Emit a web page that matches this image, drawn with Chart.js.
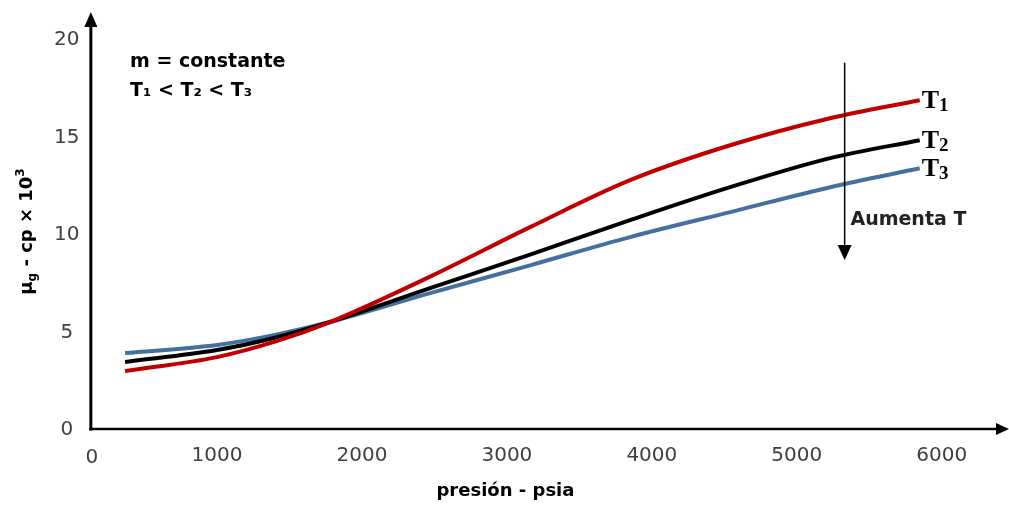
<!DOCTYPE html>
<html>
<head>
<meta charset="utf-8">
<script src="https://cdn.jsdelivr.net/npm/chart.js@4/dist/chart.umd.min.js"></script>
<style>
  html, body { margin: 0; padding: 0; background: #ffffff; }
  #wrap { width: 1009px; height: 505px; }
</style>
</head>
<body>
<div id="wrap"><canvas id="chart" width="1009" height="505"></canvas></div>
<script>
// Gas viscosity vs. pressure at constant molecular weight, three temperatures
const pressure = [366, 1000, 1400, 1780, 2470, 3160, 3850, 4540, 5230, 5848];
const viscT1 = [2.97, 3.69, 4.48, 5.49, 7.82, 10.36, 12.77, 14.56, 15.95, 16.87];
const viscT2 = [3.44, 4.05, 4.68, 5.49, 7.23, 8.95, 10.72, 12.41, 13.90, 14.82];
const viscT3 = [3.90, 4.31, 4.83, 5.49, 6.97, 8.40, 9.85, 11.13, 12.41, 13.38];
const seriesDigits = ['1', '2', '3'];
const seriesColors = ['#C00000', '#000000', '#44709D'];

const xTickValues = [0, 1000, 2000, 3000, 4000, 5000, 6000];
const yTickValues = [0, 5, 10, 15, 20];

const xTitle = 'presión - psia';
const noteLine1 = 'm = constante';
const noteLine2 = 'T\u2081 < T\u2082 < T\u2083';
const arrowText = 'Aumenta T';

// Where the vertical axis crosses the pressure scale, and annotation anchors (data units)
const AXIS_CROSS_PSIA = 130;
const X_TITLE_AT = 2990;
const NOTE_ANCHOR = { x: 400, y1: 18.82, y2: 17.35 };
const TREND_ARROW = { x: 5330, from: 18.8, to: 8.67, textX: 5370, textY: 10.72 };

const tickFont = { family: 'DejaVu Sans', size: 20 };
const tickColor = '#404040';

function toPoints(xs, ys) {
  return xs.map((x, i) => ({ x, y: ys[i] }));
}

const axesAndNotes = {
  id: 'axesAndNotes',
  afterDraw(chart) {
    const { ctx, chartArea: area, scales: { x, y } } = chart;
    const ox = x.getPixelForValue(AXIS_CROSS_PSIA);
    const oy = y.getPixelForValue(0);
    ctx.save();
    ctx.fillStyle = '#000';
    ctx.strokeStyle = '#000';

    // vertical axis with arrow
    ctx.lineWidth = 3;
    ctx.beginPath();
    ctx.moveTo(ox, oy + 1.5);
    ctx.lineTo(ox, area.top + 12);
    ctx.stroke();
    ctx.beginPath();
    ctx.moveTo(ox, area.top);
    ctx.lineTo(ox - 6.5, area.top + 15);
    ctx.lineTo(ox + 6.5, area.top + 15);
    ctx.closePath();
    ctx.fill();

    // horizontal axis with arrow
    ctx.lineWidth = 2.5;
    ctx.beginPath();
    ctx.moveTo(ox - 1.5, oy);
    ctx.lineTo(area.right - 10, oy);
    ctx.stroke();
    ctx.beginPath();
    ctx.moveTo(area.right + 2, oy);
    ctx.lineTo(area.right - 11, oy - 6);
    ctx.lineTo(area.right - 11, oy + 6);
    ctx.closePath();
    ctx.fill();

    // viscosity tick labels, centred left of the vertical axis
    ctx.font = tickFont.size + 'px ' + tickFont.family;
    ctx.fillStyle = tickColor;
    ctx.textAlign = 'center';
    ctx.textBaseline = 'middle';
    yTickValues.forEach(v => ctx.fillText(String(v), ox - 24, y.getPixelForValue(v) + 1));

    // origin label of the pressure axis sits under the vertical axis
    ctx.textBaseline = 'alphabetic';
    ctx.fillText(String(xTickValues[0]), ox + 1, oy + 34);

    // pressure axis title
    ctx.fillStyle = '#000';
    ctx.font = 'bold 18px "DejaVu Sans"';
    ctx.textBaseline = 'middle';
    ctx.fillText(xTitle, x.getPixelForValue(X_TITLE_AT), 491);

    // vertical axis title: mu_g - cp x 10^3
    ctx.save();
    ctx.textBaseline = 'alphabetic';
    ctx.translate(32, (area.top + oy) / 2 + 11);
    ctx.rotate(-Math.PI / 2);
    const big = 'bold 18px "DejaVu Sans"';
    const small = 'bold 12px "DejaVu Sans"';
    const parts = [
      { t: '\u03BC', f: big, dy: 0 },
      { t: 'g', f: small, dy: 4 },
      { t: ' - cp \u00D7 10', f: big, dy: 0 },
      { t: '3', f: small, dy: -8 }
    ];
    let total = 0;
    parts.forEach(p => { ctx.font = p.f; p.w = ctx.measureText(p.t).width; total += p.w; });
    let cx = -total / 2;
    ctx.textAlign = 'left';
    parts.forEach(p => { ctx.font = p.f; ctx.fillText(p.t, cx, p.dy); cx += p.w; });
    ctx.restore();

    // top-left note
    ctx.font = 'bold 19px "DejaVu Sans"';
    ctx.textAlign = 'left';
    ctx.textBaseline = 'middle';
    ctx.fillStyle = '#000';
    ctx.fillText(noteLine1, x.getPixelForValue(NOTE_ANCHOR.x), y.getPixelForValue(NOTE_ANCHOR.y1));
    ctx.fillText(noteLine2, x.getPixelForValue(NOTE_ANCHOR.x), y.getPixelForValue(NOTE_ANCHOR.y2));

    // "temperature increases" arrow
    const axp = x.getPixelForValue(TREND_ARROW.x);
    const y0 = y.getPixelForValue(TREND_ARROW.from);
    const y1 = y.getPixelForValue(TREND_ARROW.to);
    ctx.lineWidth = 1.5;
    ctx.beginPath();
    ctx.moveTo(axp, y0);
    ctx.lineTo(axp, y1 - 12);
    ctx.stroke();
    ctx.beginPath();
    ctx.moveTo(axp, y1);
    ctx.lineTo(axp - 7, y1 - 15);
    ctx.lineTo(axp + 7, y1 - 15);
    ctx.closePath();
    ctx.fill();
    ctx.font = 'bold 19px "DejaVu Sans"';
    ctx.fillStyle = '#222';
    ctx.fillText(arrowText, x.getPixelForValue(TREND_ARROW.textX), y.getPixelForValue(TREND_ARROW.textY));

    // series end labels T1, T2, T3
    ctx.fillStyle = '#000';
    ctx.textBaseline = 'alphabetic';
    chart.data.datasets.forEach((ds, i) => {
      const last = ds.data[ds.data.length - 1];
      const px = x.getPixelForValue(last.x) + 2;
      const py = y.getPixelForValue(last.y);
      ctx.font = 'bold 26px "Liberation Serif"';
      ctx.fillText('T', px, py + 8);
      const tw = ctx.measureText('T').width;
      ctx.font = 'bold 19px "Liberation Serif"';
      ctx.fillText(seriesDigits[i], px + tw, py + 11);
    });
    ctx.restore();
  }
};

const datasets = [viscT1, viscT2, viscT3].map((vals, i) => ({
  label: 'T' + seriesDigits[i],
  data: toPoints(pressure, vals),
  borderColor: seriesColors[i],
  borderWidth: 4,
  pointRadius: 0,
  fill: false,
  cubicInterpolationMode: 'monotone'
}));

new Chart(document.getElementById('chart'), {
  type: 'line',
  data: { datasets },
  options: {
    responsive: false,
    animation: false,
    layout: { padding: { top: 12, right: 2, left: 72, bottom: 0 } },
    plugins: { legend: { display: false }, tooltip: { enabled: false } },
    scales: {
      x: {
        type: 'linear',
        min: 0,
        max: 6450,
        grid: { display: false, drawTicks: false },
        border: { display: false },
        afterBuildTicks: s => { s.ticks = xTickValues.map(v => ({ value: v })); },
        afterFit: s => { s.height = 76; },
        ticks: {
          font: tickFont,
          color: tickColor,
          padding: 15,
          maxRotation: 0,
          callback: v => (v === xTickValues[0] ? '' : String(v))
        }
      },
      y: {
        type: 'linear',
        display: false,
        min: 0,
        max: 21.4
      }
    }
  },
  plugins: [axesAndNotes]
});
</script>
</body>
</html>
